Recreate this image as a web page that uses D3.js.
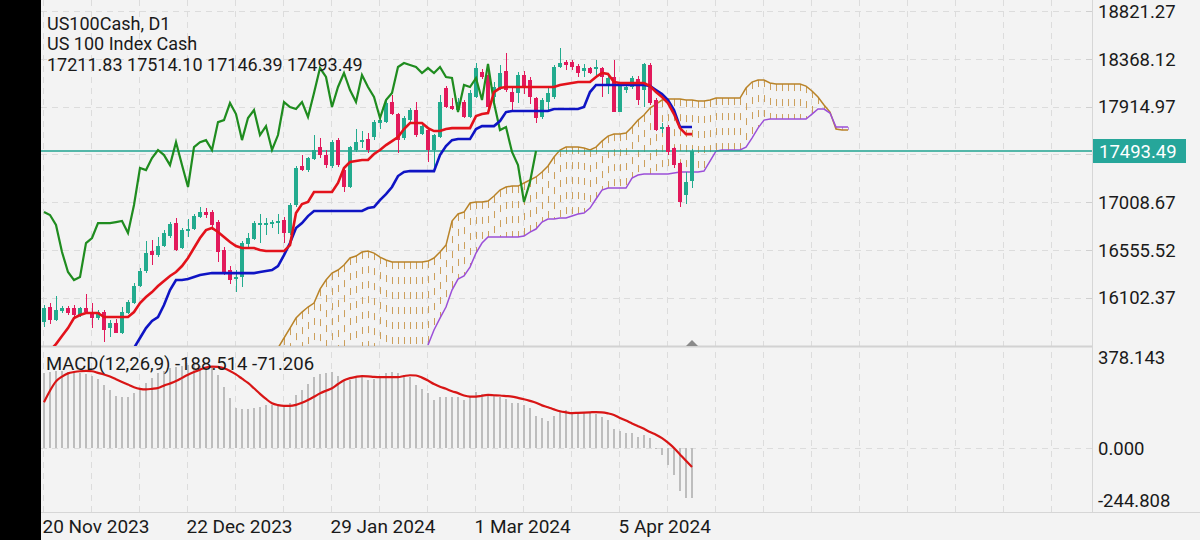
<!DOCTYPE html>
<html><head><meta charset="utf-8">
<script src="https://cdn.jsdelivr.net/npm/d3@7"></script>
<style>
html,body{margin:0;padding:0;background:#f3f3f3;}
svg{display:block;font-family:Roboto,"Noto Sans",sans-serif;}
</style></head><body>
<svg id="c" width="1200" height="540"></svg>
<script>
// ---- data (bar index 0 = 20 Nov 2023, 108 = 23 Apr 2024) ----
const opens = [15870,16013,15889,15975,16003,16003,15937,16003,15956,15908,15965,15813,15861,15766,15956,16051,16212,16354,16544,16506,16592,16686,16810,16573,16734,16753,16867,16914,16914,16819,16554,16364,16278,16297,16611,16658,16791,16791,16800,16810,16838,16715,16981,17351,17313,17417,17531,17455,17351,17597,17313,17152,17503,17578,17607,17626,17759,17768,17958,17844,17616,17787,17882,17654,17692,17503,17626,18091,17920,17882,17958,17816,18006,18243,18215,18006,18091,18253,18053,18044,18215,18167,17996,17816,17958,18006,18291,18338,18338,18300,18253,18281,18272,18281,18120,18196,17863,18072,18101,18177,18072,18310,17977,17702,17721,17522,17379,17076,17211.83];
const highs = [16032,16051,16117,16022,16022,16032,16013,16136,16051,15984,15984,15889,15900,16013,16080,16240,16380,16640,16649,16680,16740,16820,16857,16760,16850,16900,16960,16950,16933,16838,16580,16400,16364,16640,16720,16830,16900,16860,16840,16900,16867,17000,17350,17455,17440,17650,17620,17500,17600,17620,17330,17545,17700,17680,17660,17787,17820,18000,18025,17854,17830,17900,17958,17740,17721,17654,18025,18110,18000,18000,17977,18072,18329,18270,18310,18150,18310,18423,18100,18240,18250,18200,18010,18000,18100,18310,18471,18357,18357,18320,18320,18290,18360,18290,18210,18357,18150,18130,18210,18210,18329,18329,18000,17759,17740,17531,17389,17294,17514.10];
const lows = [15823,15851,15880,15956,15937,15908,15918,15956,15813,15889,15680,15728,15766,15760,15946,16040,16200,16340,16411,16490,16580,16670,16544,16560,16680,16740,16860,16860,16740,16440,16316,16230,16160,16200,16560,16650,16620,16700,16760,16710,16620,16700,16960,17303,17290,17410,17430,17330,17330,17340,17104,17140,17480,17520,17474,17600,17700,17760,17835,17474,17600,17770,17626,17645,17389,17332,17620,17900,17882,17870,17806,17806,17996,18180,17882,17950,18072,18053,17882,17949,18030,17940,17759,17800,17880,17990,18281,18262,18262,18200,18200,18220,18200,18006,18030,17863,17863,18040,18080,17930,17911,17930,17683,17664,17455,17332,16962,16990,17146.39];
const closes = [16003,15889,15984,16003,15956,15937,16003,15965,15908,15965,15794,15861,15766,15965,16060,16212,16354,16525,16506,16592,16715,16800,16554,16743,16753,16876,16914,16886,16791,16535,16345,16269,16297,16620,16668,16810,16810,16810,16819,16829,16715,16981,17332,17313,17427,17503,17455,17360,17578,17360,17152,17531,17578,17597,17503,17768,17787,17949,17844,17597,17806,17882,17645,17730,17503,17645,17958,17911,17892,17958,17816,18044,18281,18196,17911,18101,18234,18072,17958,18215,18101,18006,17806,17977,18044,18291,18329,18310,18291,18234,18281,18234,18291,18196,18186,17863,18120,18101,18186,17977,18319,17949,17692,17721,17484,17360,17010,17199,17493.49];

const tenkan = [15560,15600,15661,15738,15813,15908,15937,15956,15956,15956,15918,15918,15918,15918,15918,15965,16051,16108,16155,16212,16260,16307,16345,16402,16478,16573,16668,16743,16763,16725,16677,16630,16592,16573,16573,16573,16554,16544,16544,16544,16544,16601,16905,16990,17010,17104,17104,17104,17104,17190,17332,17389,17398,17408,17408,17465,17503,17550,17588,17626,17702,17759,17759,17759,17711,17683,17683,17702,17711,17711,17711,17711,17825,17844,17854,18053,18091,18101,18101,18101,18101,18101,18101,18101,18101,18101,18120,18129,18139,18148,18148,18148,18196,18234,18224,18148,18139,18139,18139,18139,18139,18110,18053,18006,17949,17844,17711,17654,17654];
const kijun = [15480,15480,15480,15480,15480,15480,15480,15480,15480,15480,15480,15480,15480,15480,15528,15624,15719,15813,15880,15918,16032,16174,16269,16269,16278,16297,16316,16326,16335,16335,16335,16335,16335,16335,16335,16335,16345,16354,16364,16402,16506,16620,16763,16810,16876,16924,16924,16924,16924,16924,16924,16924,16924,16924,16952,16962,17028,17085,17152,17256,17294,17303,17303,17303,17303,17303,17455,17541,17597,17607,17607,17607,17702,17730,17730,17730,17778,17863,17873,17873,17873,17873,17873,17873,17873,17892,17892,17892,17892,17892,17911,18053,18120,18120,18120,18120,18120,18120,18120,18120,18120,18110,18072,18034,17977,17882,17721,17721,17721];

const spanAStart = 39; // first bar index of spanA
const spanA = [15624,15719,15813,15908,15965,16013,16051,16183,16269,16335,16364,16411,16478,16497,16535,16544,16525,16487,16459,16440,16440,16440,16440,16440,16440,16449,16478,16535,16601,16829,16896,16914,17000,17010,17010,17019,17066,17123,17152,17161,17161,17190,17218,17247,17294,17351,17436,17503,17531,17531,17531,17522,17503,17531,17588,17635,17654,17654,17664,17721,17787,17835,17901,17939,17977,17986,17986,17986,17977,17977,17968,17968,17977,17996,17996,17996,17996,17996,18091,18148,18167,18167,18139,18129,18129,18129,18129,18129,18110,18063,18006,17930,17863,17702,17692,17692];
const spanBStart = 64;
const spanB = [15652,15795,15908,16013,16174,16278,16307,16392,16525,16620,16677,16677,16677,16677,16677,16677,16686,16724,16753,16819,16848,16848,16857,16857,16876,16896,16905,16952,17038,17123,17142,17142,17142,17142,17237,17265,17275,17275,17275,17275,17275,17284,17294,17294,17294,17294,17303,17398,17493,17503,17503,17503,17503,17531,17616,17711,17787,17797,17797,17797,17797,17797,17797,17797,17844,17892,17892,17854,17721,17721,17721];
const chikouShift = 26;

const macdMain = [280,286,289,289,286,284,280,276,270,258,236,217,195,192,192,205,220,245,261,280,290,299,305,307,310,311,307,305,305,274,230,186,149,145,145,149,155,161,161,161,161,167,199,217,242,265,277,280,286,270,255,255,261,265,255,258,267,282,286,282,274,267,236,222,208,180,190,190,190,190,180,193,211,202,199,199,193,183,168,168,161,149,120,111,102,120,136,143,136,132,130,132,127,115,105,70,64,58,55,40,49,36,-2,-27,-64,-102,-163,-186,-188.514];
const macdSignal = [172,215,250,268,280,285,288,289,288,282,276,268,258,248,238,228,222,220,222,225,234,242,251,263,275,285,294,302,305,304,299,289,276,260,244,224,203,184,168,161,158,158,162,170,180,192,205,215,224,240,254,262,267,270,269,267,266,266,266,266,270,273,272,264,253,240,230,222,213,206,197,193,193,196,199,198,197,195,193,188,183,177,170,160,153,145,138,134,131,132,133,134,135,134,130,124,113,103,92,82,72,60,50,37,20,0,-24,-48,-71.206];

const priceGrid = [18821.27,18368.12,17914.97,17461.82,17008.67,16555.52,16102.37];
const priceLabels = [18821.27,18368.12,17914.97,17008.67,16555.52,16102.37];
const lastPrice = 17493.49;
const macdLabels = [378.143,0.000,-244.808];
const xTickBars = [0,24,48,72,96];
const xTickLabels = ["20 Nov 2023","22 Dec 2023","29 Jan 2024","1 Mar 2024","5 Apr 2024"];
const gridEveryBars = 8;
const titleLines = ["US100Cash, D1","US 100 Index Cash","17211.83 17514.10 17146.39 17493.49"];
const macdTitle = "MACD(12,26,9) -188.514 -71.206";

// ---- layout ----
const svg = d3.select("#c");
const L = 41, R = 1092, mainTop = 0, mainBot = 346, mTop = 347, mBot = 513;
const x = d3.scaleLinear().domain([0,108]).range([44,692]);
const y = d3.scaleLinear().domain([16102.37,18821.27]).range([297.6,11.1]);
const ym = d3.scaleLinear().domain([-244.808,378.143]).range([513.3,347.2]);
const nBars = closes.length;

svg.append("rect").attr("width",1200).attr("height",540).attr("fill","#f3f3f3");

const defs = svg.append("defs");
defs.append("clipPath").attr("id","cm").append("rect").attr("x",L).attr("y",mainTop).attr("width",R-L).attr("height",mainBot-mainTop);
defs.append("clipPath").attr("id","cd").append("rect").attr("x",L).attr("y",mTop).attr("width",R-L).attr("height",mBot-mTop);

// grid
const grid = svg.append("g").attr("stroke","#dcdcdc").attr("stroke-dasharray","6,5").attr("stroke-width",1);
const vBars = d3.range(0, 180, gridEveryBars).filter(b => x(b) < R);
grid.selectAll("line.v").data(vBars).join("line")
  .attr("x1",b=>Math.round(x(b))-0.5).attr("x2",b=>Math.round(x(b))-0.5).attr("y1",0).attr("y2",mBot);
grid.selectAll("line.h").data(priceGrid).join("line")
  .attr("x1",L).attr("x2",R).attr("y1",d=>Math.round(y(d))+0.5).attr("y2",d=>Math.round(y(d))+0.5);
grid.append("line").attr("x1",L).attr("x2",R).attr("y1",Math.round(ym(0))+0.5).attr("y2",Math.round(ym(0))+0.5);

// panel borders
svg.append("line").attr("x1",L).attr("x2",R).attr("y1",346.5).attr("y2",346.5).attr("stroke","#d2d2d2").attr("stroke-width",2);
svg.append("line").attr("x1",L).attr("x2",1200).attr("y1",512.5).attr("y2",512.5).attr("stroke","#d6d6d6").attr("stroke-width",1);
svg.append("line").attr("x1",R+0.5).attr("x2",R+0.5).attr("y1",0).attr("y2",513).attr("stroke","#d6d6d6").attr("stroke-width",1);

// ---- main panel ----
const main = svg.append("g").attr("clip-path","url(#cm)");

// cloud hatch
const cloud = [];
for (let j = Math.max(spanAStart, spanBStart); j < spanAStart + spanA.length; j++) {
  const a = spanA[j-spanAStart];
  const b = spanB[j-spanBStart];
  cloud.push({j, a, b});
}
for (let j = spanAStart; j < spanBStart; j++) cloud.push({j, a: spanA[j-spanAStart], b: 14000});
main.append("g").selectAll("line").data(cloud).join("line")
  .attr("x1",d=>Math.round(x(d.j))+0.5).attr("x2",d=>Math.round(x(d.j))+0.5)
  .attr("y1",d=>y(Math.max(d.a,d.b))).attr("y2",d=>y(Math.min(d.a,d.b)))
  .attr("stroke",d=>d.a>=d.b?"#c8964a":"#b77fe0").attr("stroke-width",1).attr("stroke-opacity",0.9).attr("stroke-dasharray","7,8");

const lineGen = d3.line().x(d=>x(d[0])).y(d=>y(d[1]));
main.append("path").attr("d",lineGen(spanA.map((v,i)=>[i+spanAStart,v]))).attr("fill","none").attr("stroke","#b98328").attr("stroke-width",1.5);
main.append("path").attr("d",lineGen(spanB.map((v,i)=>[i+spanBStart,v]))).attr("fill","none").attr("stroke","#9b4fd8").attr("stroke-width",1.5);

// bid line
main.append("line").attr("x1",L).attr("x2",R).attr("y1",y(lastPrice)).attr("y2",y(lastPrice)).attr("stroke","#1fa391").attr("stroke-width",1.5);

// candles
const bull = "#22ab8e", bear = "#e2195b";
const cg = main.append("g").attr("shape-rendering","crispEdges");
const idx = d3.range(nBars);
cg.selectAll("rect.w").data(idx).join("rect")
  .attr("x",i=>Math.round(x(i))-0.5).attr("width",1.2)
  .attr("y",i=>y(highs[i])).attr("height",i=>Math.max(1,y(lows[i])-y(highs[i])))
  .attr("fill",i=>closes[i]>=opens[i]?bull:bear);
cg.selectAll("rect.b").data(idx).join("rect")
  .attr("x",i=>Math.round(x(i))-2).attr("width",4)
  .attr("y",i=>y(Math.max(opens[i],closes[i])))
  .attr("height",i=>Math.max(1.5,Math.abs(y(opens[i])-y(closes[i]))))
  .attr("fill",i=>closes[i]>=opens[i]?bull:bear);

// chikou
const chik = idx.filter(i=>i+chikouShift<nBars).map(i=>[i,closes[i+chikouShift]]);
main.append("path").attr("d",lineGen(chik)).attr("fill","none").attr("stroke","#1f8c1f").attr("stroke-width",2.2);
// kijun, tenkan
main.append("path").attr("d",lineGen(kijun.map((v,i)=>[i,v]))).attr("fill","none").attr("stroke","#0f14c4").attr("stroke-width",2.6);
main.append("path").attr("d",lineGen(tenkan.map((v,i)=>[i,v]))).attr("fill","none").attr("stroke","#e3121b").attr("stroke-width",2.6);

// current bar marker
const mx = x(nBars-1);
svg.append("path").attr("d",`M${mx-6},346 L${mx},340 L${mx+6},346 Z`).attr("fill","#8a8a8a");

// ---- MACD panel ----
const mp = svg.append("g").attr("clip-path","url(#cd)");
mp.append("g").attr("shape-rendering","crispEdges").selectAll("rect").data(macdMain.map((v,i)=>[i,v])).join("rect")
  .attr("x",d=>Math.round(x(d[0]))-1).attr("width",2)
  .attr("y",d=>Math.min(ym(0),ym(d[1]))).attr("height",d=>Math.abs(ym(d[1])-ym(0)))
  .attr("fill","#bdbdbd");
const sigGen = d3.line().x(d=>x(d[0])).y(d=>ym(d[1])).curve(d3.curveMonotoneX);
mp.append("path").attr("d",sigGen(macdSignal.map((v,i)=>[i,v]))).attr("fill","none").attr("stroke","#d81515").attr("stroke-width",2.2);

// ---- texts ----
const txt = svg.append("g").attr("fill","#1a1a1a").style("font-size","18px");
const titleY = [29.5,49.5,70.5];
txt.selectAll("text.t").data(titleLines).join("text").attr("x",47).attr("y",(d,i)=>titleY[i]).text(d=>d);
txt.append("text").attr("x",46).attr("y",370).style("font-size","18.5px").text(macdTitle);

// right axis
const ax = svg.append("g").style("font-size","18.5px").attr("fill","#1a1a1a");
ax.selectAll("text.p").data(priceLabels).join("text").attr("x",1098).attr("y",d=>y(d)).attr("dy","0.36em").text(d=>d.toFixed(2));
ax.selectAll("line.tk").data(priceGrid).join("line").attr("x1",R-6).attr("x2",R).attr("y1",d=>Math.round(y(d))+0.5).attr("y2",d=>Math.round(y(d))+0.5).attr("stroke","#cfcfcf");
// last price box
const ly = y(lastPrice);
ax.append("rect").attr("x",1093).attr("y",ly-12).attr("width",93).attr("height",24).attr("fill","#26a69a");
ax.append("text").attr("x",1099).attr("y",ly).attr("dy","0.36em").attr("fill","#ffffff").text(lastPrice.toFixed(2));
// macd labels (clamped into the panel)
ax.selectAll("text.m").data(macdLabels).join("text").attr("x",1098)
  .attr("y",d=>Math.max(357, Math.min(500, ym(d)))).attr("dy","0.36em").text(d=>d.toFixed(3));

// x axis
const xa = svg.append("g").style("font-size","19px").attr("fill","#1a1a1a");
xa.selectAll("text").data(xTickBars).join("text").attr("x",b=>x(b)-1.5).attr("y",533).text((b,i)=>xTickLabels[i]);

// left black strip
svg.append("rect").attr("x",0).attr("y",0).attr("width",L).attr("height",540).attr("fill","#000");
</script>
</body></html>
